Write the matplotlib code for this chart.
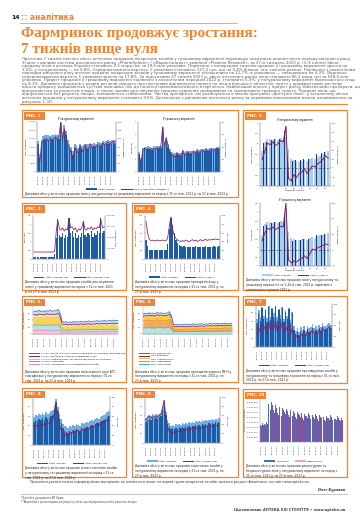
import textwrap
import numpy as np
import matplotlib
matplotlib.use('Agg')
import matplotlib.pyplot as plt
from matplotlib.patches import Rectangle
from matplotlib.lines import Line2D

# ---- data (approximate) ----
week_labels = ["02.08.21", "20.09.21", "08.11.21", "27.12.21", "14.02.22", "04.04.22", "23.05.22",
               "11.07.22", "29.08.22", "17.10.22", "05.12.22", "23.01.23", "13.03.23", "01.05.23", "19.06.23"]
weeks_2023 = list(range(1, 27))

p1_pack_prev = [1850, 1100, 1950, 2150, 2200, 2250, 2200, 2150, 2250, 2200, 2300, 2200, 2250, 3000, 2400,
                2800, 2450, 1900, 1650, 1500, 1250, 1650, 1600, 1450, 1650, 1550, 1600, 1700, 1650, 1700,
                1700, 1650, 1750, 1700, 1800, 1800, 1750, 1850, 1800, 1850, 1900, 1850, 1900, 1950, 1950]
p1_pack = [1650, 800, 1750, 1900, 1950, 2000, 1950, 1900, 2000, 1950, 2050, 1950, 2000, 2950, 2150,
           2600, 2200, 1700, 1450, 1300, 1000, 1450, 1350, 1250, 1450, 1350, 1400, 1500, 1400, 1450,
           1500, 1450, 1550, 1500, 1550, 1600, 1550, 1650, 1600, 1650, 1700, 1650, 1700, 1750, 1700]
p1_pack_line = [60, 30, 85, 95, 100, 98, 92, 102, 95, 100, 105, 96, 110, 148, 95, 130, 112, 80, 70, 55,
                35, 75, 62, 58, 80, 60, 68, 82, 66, 72, 85, 70, 78, 74, 82, 80, 76, 88, 80, 84, 90, 82,
                88, 92, 86]

p1_uah_prev = [1.6, 1.1, 1.9, 2.0, 2.0, 2.05, 2.0, 1.95, 2.05, 2.0, 2.1, 2.05, 2.1, 3.6, 2.4, 2.7, 2.2,
               1.8, 1.6, 1.55, 1.5, 1.6, 1.55, 1.5, 1.75, 1.6, 1.65, 1.7, 1.65, 1.7, 1.75, 1.7, 1.8, 1.75,
               1.8, 1.85, 1.8, 1.9, 1.85, 1.9, 1.95, 1.9, 1.95, 2.0, 2.0]
p1_uah = [1.4, 0.9, 1.7, 1.8, 1.8, 1.85, 1.8, 1.75, 1.85, 1.8, 1.9, 1.85, 1.9, 3.5, 2.2, 2.5, 2.0, 1.6,
          1.4, 1.35, 1.3, 1.4, 1.35, 1.3, 1.55, 1.4, 1.45, 1.5, 1.45, 1.5, 1.55, 1.5, 1.6, 1.55, 1.6,
          1.65, 1.6, 1.7, 1.65, 1.7, 1.75, 1.7, 1.75, 1.8, 1.8]
p1_uah_line = [25, 15, 34, 38, 36, 37, 35, 38, 36, 37, 39, 36, 42, 72, 40, 55, 42, 30, 27, 26, 24, 30,
               26, 25, 34, 27, 29, 32, 28, 30, 33, 30, 34, 31, 33, 35, 32, 36, 33, 35, 37, 34, 36, 38, 37]

p2a_prev = [2.0, 2.05, 2.1, 2.15, 2.2, 2.25, 2.2, 2.25, 2.3, 2.6, 1.3, 1.25, 1.2, 1.25, 1.3, 1.25, 1.3,
            1.35, 1.3, 1.4, 1.45, 1.5, 1.5, 1.55, 1.6, 1.65]
p2a_cur = [1.65, 2.1, 2.25, 2.25, 2.2, 2.25, 2.2, 2.3, 2.2, 2.8, 1.75, 1.3, 1.25, 1.2, 1.15, 1.2, 1.25,
           1.2, 1.3, 1.35, 1.3, 1.4, 1.45, 1.5, 1.6, 1.65]
p2a_line = [19, 37, 55, 52, 58, 50, 54, 61, 58, 93, -23, -29, -15, -22, -12, -9, -1, -12, -5, 5, 2, 9,
            13, 19, 27, 22]

p2b_prev = [2.1, 2.2, 2.3, 2.35, 2.4, 2.45, 2.4, 2.45, 2.5, 2.9, 1.5, 1.45, 1.4, 1.45, 1.5, 1.45, 1.5,
            1.55, 1.5, 1.6, 1.65, 1.7, 1.7, 1.75, 1.8, 1.85]
p2b_cur = [1.7, 2.35, 2.45, 2.45, 2.4, 2.45, 2.4, 2.5, 2.45, 3.2, 1.9, 1.55, 1.5, 1.45, 1.45, 1.5, 1.5,
           1.45, 1.55, 1.6, 1.55, 1.65, 1.7, 1.75, 1.8, 1.85]
p2b_line = [24, 43, 56, 53, 59, 53, 56, 61, 59, 120, -24, -32, -27, -30, -24, -21, -14, -21, -10, 3, 1,
            6, 9, 12, 16, 14]

p3_bars = [0.10, 0.12, 0.11, 0.13, 0.12, 0.14, 0.12, 0.13, 0.11, 0.12, 0.13, 0.12, 0.14, 0.30,
           1.2, 2.3, 1.4, 1.3, 1.5, 1.2, 1.4, 1.3, 2.4, 1.5, 1.6, 1.3, 1.5, 1.2, 1.4, 1.3, 1.5, 2.2,
           1.4, 1.3, 1.5, 1.4, 1.6, 1.3, 1.5, 1.4, 1.6, 1.5, 2.4, 1.5, 1.6]
p3_line = [6500, 6500, 6500, 6500, 6500, 6500, 6500, 6500, 6500, 6500, 6500, 6500, 6500, 7000,
           26000, 36000, 28000, 27000, 29000, 26000, 28000, 27000, 38000, 29000, 30000, 27000, 29000,
           25000, 28000, 27000, 29000, 35000, 28000, 27000, 29000, 28000, 30000, 27000, 29000, 28000,
           30000, 29000, 37000, 29000, 30000]

p4_bars = [45, 30, 22, 20, 21, 20, 22, 21, 20, 22, 21, 20, 22, 35, 70, 95, 80, 60, 45, 38, 33, 30, 28,
           30, 27, 29, 28, 27, 29, 28, 30, 27, 28, 29, 27, 28, 30, 28, 27, 29, 28, 30, 29, 28, 30]
p4_line = [88, 60, 45, 43, 44, 42, 43, 44, 42, 43, 44, 43, 42, 48, 75, 98, 70, 55, 48, 44, 42, 40, 43,
           41, 44, 42, 40, 43, 45, 42, 44, 41, 43, 45, 42, 44, 46, 43, 45, 44, 46, 45, 47, 45, 46]

p5_blue = [78, 82, 80, 85, 80, 83, 79, 84, 81, 86, 80, 84, 82, 88, 75, 45, 42, 44, 40, 43, 41, 45, 42,
           44, 43, 46, 42, 45, 44, 47, 43, 46, 45, 48, 44, 47, 46, 49, 45, 48, 47, 50, 46, 49, 48]
p5_purple = [68, 70, 66, 72, 69, 71, 67, 73, 70, 72, 68, 71, 70, 75, 62, 36, 34, 35, 32, 34, 33, 36, 34,
             35, 34, 37, 33, 36, 35, 37, 34, 36, 35, 38, 35, 37, 36, 38, 35, 38, 37, 39, 36, 38, 38]
p5_yellow = [55, 58, 56, 60, 57, 59, 55, 61, 58, 60, 56, 59, 58, 62, 50, 26, 24, 25, 23, 25, 24, 26, 25,
             26, 25, 27, 24, 26, 26, 27, 25, 27, 26, 28, 26, 28, 27, 29, 27, 29, 28, 30, 28, 29, 29]
p5_teal = [30, 32, 31, 33, 31, 32, 30, 33, 32, 33, 31, 32, 32, 34, 28, 15, 14, 15, 13, 14, 14, 15, 14, 15,
           15, 16, 14, 15, 15, 16, 15, 16, 15, 16, 15, 16, 16, 17, 16, 17, 16, 17, 16, 17, 17]
p5_pink = [12, 13, 12, 14, 13, 13, 12, 14, 13, 14, 12, 13, 13, 14, 11, 7, 6, 7, 6, 7, 7, 7, 6, 7, 7, 8,
           7, 7, 7, 8, 7, 8, 7, 8, 7, 8, 8, 8, 7, 8, 8, 8, 8, 8, 8]

p6_blue = [70, 74, 72, 76, 73, 75, 71, 77, 74, 76, 72, 75, 74, 80, 65, 36, 33, 35, 32, 34, 33, 36, 34,
           35, 34, 37, 33, 36, 35, 37, 34, 36, 35, 38, 35, 37, 36, 38, 35, 38, 37, 39, 36, 38, 38]
p6_purple = [62, 66, 64, 68, 65, 67, 63, 69, 66, 68, 64, 67, 66, 70, 58, 28, 26, 27, 25, 27, 26, 28, 27,
             28, 27, 29, 26, 28, 28, 29, 27, 29, 28, 30, 28, 30, 29, 31, 29, 31, 30, 32, 30, 31, 31]
p6_yellow = [58, 62, 60, 64, 61, 63, 59, 65, 62, 64, 60, 63, 62, 66, 54, 24, 22, 23, 21, 23, 22, 24, 23,
             24, 23, 25, 22, 24, 24, 25, 23, 25, 24, 26, 24, 26, 25, 27, 25, 27, 26, 28, 26, 27, 27]
p6_orange = [45, 48, 46, 50, 47, 49, 45, 51, 48, 50, 46, 49, 48, 52, 40, 18, 16, 17, 15, 17, 16, 18, 17,
             18, 17, 19, 16, 18, 18, 19, 17, 19, 18, 20, 18, 20, 19, 21, 19, 21, 20, 22, 20, 21, 21]
p6_teal = [20, 22, 21, 23, 21, 22, 20, 23, 22, 23, 21, 22, 22, 24, 18, 9, 8, 9, 8, 9, 9, 9, 8, 9, 9, 10,
           9, 9, 9, 10, 9, 10, 9, 10, 9, 10, 10, 10, 9, 10, 10, 10, 10, 10, 10]

p7_prev = [65, 85, 70, 92, 72, 88, 68, 95, 70, 90, 78, 96, 70, 88, 75, 92, 66, 86, 72, 90, 62, 82, 50,
           38, 44, 36, 46, 40, 48, 38, 50, 44, 46, 54, 44, 48, 42, 52, 46, 55, 48, 50, 54, 56, 52]
p7_bars = [55, 80, 60, 90, 65, 85, 58, 92, 62, 88, 70, 95, 60, 85, 66, 90, 58, 82, 64, 88, 55, 78, 40,
           30, 35, 28, 38, 32, 40, 30, 42, 35, 38, 45, 36, 40, 34, 44, 38, 46, 40, 42, 45, 48, 44]
p7_line = [30, 45, 35, 55, 40, 50, 32, 60, 38, 52, 42, 65, 35, 50, 40, 58, 34, 48, 38, 55, 30, 45, 25,
           22, 28, 20, 30, 26, 34, 25, 36, 30, 33, 40, 32, 36, 30, 40, 35, 44, 38, 40, 43, 46, 42]

p8_prev = [58, 62, 60, 64, 63, 66, 62, 68, 64, 67, 70, 72, 84, 96, 80, 64, 54, 44, 40, 37, 35, 40, 38,
           42, 40, 44, 42, 40, 45, 43, 46, 48, 46, 50, 52, 50, 54, 56, 55, 58, 60, 62, 65, 68, 70]
p8_bars = [48, 52, 50, 55, 53, 56, 52, 58, 54, 57, 60, 62, 75, 90, 70, 55, 45, 35, 30, 28, 26, 30, 28,
           32, 30, 34, 32, 30, 35, 33, 36, 38, 36, 40, 42, 40, 44, 46, 45, 48, 50, 52, 55, 58, 60]
p8_line = [35, 40, 42, 38, 44, 40, 45, 42, 46, 44, 48, 50, 70, 85, 60, 40, 30, 22, 18, 25, 20, 28, 22,
           30, 25, 32, 28, 24, 34, 30, 33, 36, 32, 38, 40, 36, 42, 44, 40, 46, 48, 45, 50, 52, 50]

p9_prev = [55, 58, 60, 58, 62, 60, 63, 61, 64, 66, 80, 94, 68, 50, 43, 38, 40, 38, 41, 39, 42, 40, 43,
           41, 44, 42, 45, 43, 46, 44, 47, 45, 48, 46, 49, 47, 50, 48, 51, 49, 52, 50, 53, 51, 54]
p9_bars = [45, 50, 52, 50, 54, 52, 55, 53, 56, 58, 72, 88, 60, 42, 35, 30, 32, 30, 33, 31, 34, 32, 35,
           33, 36, 34, 37, 35, 38, 36, 39, 37, 40, 38, 41, 39, 42, 40, 43, 41, 44, 42, 45, 43, 46]
p9_line = [50, 55, 58, 54, 57, 55, 58, 56, 60, 62, 78, 92, 58, 35, 25, 20, 24, 22, 26, 23, 27, 25, 28,
           26, 30, 27, 31, 29, 32, 30, 33, 31, 34, 32, 35, 33, 36, 34, 37, 35, 38, 36, 39, 37, 40]

p10_rx = [35, 38, 36, 40, 78, 70, 82, 65, 75, 60, 72, 58, 70, 62, 68, 55, 66, 58, 64, 52, 62, 55, 60,
          50, 58, 54, 60, 48, 56, 52, 58, 47, 55, 50, 56, 46, 54, 49, 55, 45, 52, 48, 53, 46, 50]
p10_otc = [32, 35, 34, 37, 72, 66, 76, 60, 70, 56, 68, 54, 66, 58, 63, 51, 62, 54, 60, 48, 58, 51, 56,
           46, 54, 50, 56, 44, 52, 48, 54, 43, 51, 46, 52, 42, 50, 45, 51, 41, 48, 44, 49, 42, 46]

body = ("Протягом 7 тижнів поспіль обсяг аптечних продажів лікарських засобів у грошовому вираженні "
        "перевищує показники аналогічного періоду минулого року. Згідно з даними системи дослідження "
        "ринку «PharmXplorer» / «Фармстандарт» компанії «Proxima Research», за 27-й тиждень 2023 р. "
        "(3–9 липня) обсяг продажу ліків в аптеках України становить 2,5 млрд грн за 19,5 млн упаковок. "
        "Порівняно з попереднім тижнем продажі у грошовому вираженні зросли на 1,2%, у натуральному — "
        "на 0,8%. Середньозважена вартість 1 упаковки становить 127,3 грн, що на 0,4% більше, ніж тижнем "
        "раніше. Порівняно з аналогічним періодом минулого року аптечні продажі лікарських засобів у "
        "грошовому вираженні збільшилися на 12,7%, в упаковках — зменшилися на 4,3%. Водночас "
        "середньозважена вартість 1 упаковки зросла на 17,8%. За підсумками 27 тижнів 2023 р. обсяг "
        "аптечного ринку ліків становить 66,2 млрд грн за 528,4 млн упаковок. Приріст продажів у "
        "грошовому вираженні порівняно з аналогічним періодом 2022 р. становить 5,3%, у натуральному "
        "вираженні відзначається спад на 8,1%. Динаміка продажів у розрізі регіонів свідчить про "
        "поступове відновлення попиту на ліки в більшості областей, проте у прифронтових регіонах обсяги "
        "продажу залишаються суттєво нижчими, ніж до початку повномасштабного вторгнення. Найбільший "
        "внесок у приріст ринку забезпечили препарати, що відпускаються за рецептом лікаря, а також засоби "
        "для лікування серцево-судинних захворювань та захворювань травного тракту. Продажі ліків, що "
        "відпускаються без рецепта лікаря, залишаються стабільними. Частка препаратів, які реалізуються "
        "в межах програми «Доступні ліки», у загальному обсязі аптечних продажів у натуральному вираженні "
        "становить 9,6%. Детальніше з динамікою аптечного ринку за окремими показниками можна "
        "ознайомитися на рисунках 1–10.")

# ---- layout helpers (pixel coordinates, origin top-left) ----
W, H = 360, 530
ORANGE = '#ef8534'
DARK = '#1d5ba6'
LIGHT = '#6eaee2'
PALE = '#a8cdef'
NAVY = '#1b3873'
PURPLE = '#8e1a5b'

plt.rcParams['font.family'] = ['DejaVu Sans']
fig = plt.figure(figsize=(3.6, 5.3), dpi=100)


def ax_px(x0, y0, x1, y1):
    return fig.add_axes([x0 / W, 1 - y1 / H, (x1 - x0) / W, (y1 - y0) / H])


def txt(x, y, s, **kw):
    return fig.text(x / W, 1 - y / H, s, **kw)


def hline(x0, x1, y, color, lw):
    fig.add_artist(Line2D([x0 / W, x1 / W], [1 - y / H, 1 - y / H], color=color, lw=lw))


def fmt(v):
    if float(v).is_integer():
        return '{:,}'.format(int(v)).replace(',', ' ')
    return ('%.1f' % v).replace('.', ',')


def style(ax):
    ax.tick_params(labelsize=1.5, length=1, width=0.3, pad=0.5, color='#888', labelcolor='#333')
    for s in ax.spines.values():
        s.set_linewidth(0.3)
        s.set_color('#999')
    ax.spines['top'].set_visible(False)


def box(x0, y0, x1, y1, label):
    fig.add_artist(Rectangle((x0 / W, 1 - y1 / H), (x1 - x0) / W, (y1 - y0) / H,
                             transform=fig.transFigure, fill=False, ec=ORANGE, lw=0.9))
    fig.add_artist(Rectangle(((x0 + 2) / W, 1 - (y0 + 10) / H), 21 / W, 7.5 / H,
                             transform=fig.transFigure, fc=ORANGE, ec='none'))
    txt(x0 + 4, y0 + 6.3, label, color='white', fontsize=2.8, weight='bold', va='center')


def caption(x, y, s, width):
    txt(x, y, textwrap.fill(s, width), fontsize=2.1, va='top', color='#222', linespacing=1.25)


def legend(x, y, items, ncol=2):
    handles = []
    for kind, c in items:
        if kind == 'bar':
            handles.append(Rectangle((0, 0), 1, 1, fc=c, ec='none'))
        else:
            handles.append(Line2D([], [], color=c, lw=0.7))
    labels = [lab for lab in items.values()] if isinstance(items, dict) else None
    return handles


def add_legend(x, y, kinds, colors, labels, ncol=2, loc='center'):
    handles = []
    for kind, c in zip(kinds, colors):
        if kind == 'bar':
            handles.append(Rectangle((0, 0), 1, 1, fc=c, ec='none'))
        else:
            handles.append(Line2D([], [], color=c, lw=0.7))
    fig.legend(handles, labels, loc=loc, bbox_to_anchor=(x / W, 1 - y / H), ncol=ncol, fontsize=1.5,
               frameon=False, handlelength=5, handleheight=0.9, columnspacing=3, labelspacing=0.5,
               borderpad=0, handletextpad=0.8)


def bar_line(rect, prev, cur, line, ylim, yticks, rlim, rticks, xlabels, ylab, rlab,
             step=3, title=None, zero=False):
    ax = ax_px(*rect)
    x = np.arange(len(cur))
    if prev is not None:
        ax.bar(x, prev, width=1.0, color=LIGHT, lw=0)
    ax.bar(x, cur, width=0.8, color=DARK, lw=0)
    ax.set_xlim(-0.6, len(cur) - 0.4)
    ax.set_ylim(*ylim)
    ax.set_yticks(yticks, [fmt(v) for v in yticks])
    ax.set_xticks(x[::step], xlabels, rotation=90)
    ax.set_ylabel(ylab, fontsize=1.6, labelpad=1)
    style(ax)
    ax2 = ax.twinx()
    ax2.plot(x, line, color=PURPLE, lw=0.55)
    ax2.set_ylim(*rlim)
    ax2.set_yticks(rticks, [fmt(v) for v in rticks])
    ax2.set_ylabel(rlab, fontsize=1.6, labelpad=1)
    style(ax2)
    if title:
        ax.set_title(title, fontsize=1.8, pad=1.5)
    return ax, ax2


def weekly_2023(rect, prev, cur, line, ylim, yticks, rlim, rticks, ylab, title):
    ax = ax_px(*rect)
    x = np.array(weeks_2023)
    ax.bar(x, cur, width=0.72, color=PALE, lw=0)
    ax.bar(x - 0.42, prev, width=0.22, color=NAVY, lw=0)
    ax.set_xlim(0.2, 26.7)
    ax.set_ylim(*ylim)
    ax.set_yticks(yticks, [fmt(v) for v in yticks])
    ax.set_xticks(x[::3], [str(v) for v in x[::3]])
    ax.set_xlabel('Тиждень 2023 р.', fontsize=1.6, labelpad=0.8)
    ax.set_ylabel(ylab, fontsize=1.6, labelpad=1)
    ax.set_title(title, fontsize=1.8, pad=1.5)
    style(ax)
    ax2 = ax.twinx()
    ax2.axhline(0, color='#333', lw=0.4, ls=(0, (4, 3)))
    ax2.plot(x, line, color=PURPLE, lw=0.7)
    ax2.set_ylim(*rlim)
    ax2.set_yticks(rticks, [fmt(v) for v in rticks])
    ax2.set_ylabel('Приріст/спад, %', fontsize=1.6, labelpad=1)
    style(ax2)


# ---- header ----
txt(11, 17.5, '14', fontsize=4.3, weight='bold', va='center', color='#111')
txt(21, 17.5, ':: аналітика', fontsize=5.5, weight='bold', va='center', color=ORANGE)
hline(20, 237, 22.5, '#9a9a9a', 0.5)
txt(21, 36.5, 'Фармринок продовжує зростання:', fontsize=11, weight='bold', color=ORANGE,
    family='Liberation Serif', va='baseline')
txt(21, 52.5, '7 тижнів вище нуля', fontsize=11, weight='bold', color=ORANGE,
    family='Liberation Serif', va='baseline')

# body text, 12 lines, font size fitted to the column width
lines = textwrap.wrap(body, int(np.ceil(len(body) / 12)) + 2)
body_texts = [txt(22, 59 + i * 3.55, ln, fontsize=2.1, color='#555', va='center') for i, ln in enumerate(lines)]
fig.canvas.draw()
rend = fig.canvas.get_renderer()
widest = max(t.get_window_extent(rend).width for t in body_texts)
for t in body_texts:
    t.set_fontsize(2.1 * 322 / widest)
hline(20, 347, 103.5, ORANGE, 0.8)

# ---- Рис. 1 ----
box(22, 110, 238, 197, 'РИС. 1')
ticks_pack = [0, 500, 1000, 1500, 2000, 2500, 3000]
bar_line((37, 122, 116, 172), p1_pack_prev, p1_pack, p1_pack_line, (0, 3000), ticks_pack,
         (0, 150), [0, 25, 50, 75, 100, 125, 150], week_labels, 'Тис. упаковок',
         'Приріст/спад, %', title='У натуральному вираженні')
bar_line((138, 122, 220, 172), p1_uah_prev, p1_uah, p1_uah_line, (0, 4), [0, 1, 2, 3, 4],
         (0, 80), [0, 20, 40, 60, 80], week_labels, 'Млрд грн', 'Приріст/спад, %',
         title='У грошовому вираженні')
add_legend(128, 189.5, ['bar', 'line'], [DARK, PURPLE],
           ['Обсяг продажу', 'Приріст/спад обсягу продажу, %'])
caption(25, 192, 'Динаміка обсягу аптечних продажів ліків у натуральному та грошовому вираженні '
        'за період з 31-го тиж. 2021 р. по 27-й тиж. 2023 р.', 135)

# ---- Рис. 2 ----
box(243, 110, 347, 290, 'РИС. 2')
weekly_2023((260, 123, 330, 186), p2a_prev, p2a_cur, p2a_line, (0, 3.0),
            [0, 0.5, 1.0, 1.5, 2.0, 2.5, 3.0], (-40, 100), [-40, -20, 0, 20, 40, 60, 80, 100],
            'Млн упаковок', 'У натуральному вираженні')
weekly_2023((260, 203, 330, 266), p2b_prev, p2b_cur, p2b_line, (0, 3.5),
            [0, 0.5, 1.0, 1.5, 2.0, 2.5, 3.0, 3.5], (-40, 120), [-40, 0, 40, 80, 120],
            'Млрд грн', 'У грошовому вираженні')
add_legend(295, 275.5, ['bar', 'line'], [PALE, PURPLE], ['Обсяг продажу', 'Приріст/спад, %'])
caption(246, 278.5, 'Динаміка обсягу аптечних продажів ліків у натуральному та грошовому '
        'вираженні за 1–26-й тиж. 2023 р. порівняно з аналогічним періодом 2022 р.', 60)

# ---- Рис. 3 ----
box(22, 203, 126, 290, 'РИС. 3')
bar_line((33, 216, 105, 259), None, p3_bars, p3_line, (0, 2.5), [0, 0.5, 1.0, 1.5, 2.0, 2.5],
         (0, 40000), [0, 10000, 20000, 30000, 40000], week_labels, 'Млн грн', 'Тис. упаковок')
add_legend(72, 277.5, ['bar', 'line'], [DARK, PURPLE], ['Обсяг продажу, грн', 'Обсяг продажу, упак.'])
caption(25, 280, 'Динаміка обсягу аптечних продажів засобів для лікування анемії '
        'у грошовому вираженні за період з 31-го тиж. 2021 р. по 27-й тиж. 2023 р.', 58)

# ---- Рис. 4 ----
box(132, 203, 238, 290, 'РИС. 4')
bar_line((145, 216, 220, 259), None, p4_bars, p4_line, (0, 100), [0, 20, 40, 60, 80, 100],
         (0, 100), [0, 20, 40, 60, 80, 100], week_labels, 'Тис. упаковок', 'Млн грн')
add_legend(182, 277.5, ['bar', 'line'], [DARK, PURPLE], ['Обсяг продажу', 'Приріст/спад, %'])
caption(135, 280, 'Динаміка обсягу аптечних продажів препаратів йоду у натуральному '
        'вираженні за період з 31-го тиж. 2021 р. по 27-й тиж. 2023 р.', 60)


# ---- Рис. 5 / Рис. 6: several series ----
def multi(rect, series, colors, fills):
    ax = ax_px(*rect)
    x = np.arange(len(series[0]))
    for i, (lo, c) in enumerate(fills):
        base = series[i + 1] if i + 1 < len(series) else np.zeros(len(x))
        ax.fill_between(x, base, series[i], color=c, lw=0)
    ax.fill_between(x, 0, series[-1], color=fills[-1][1], lw=0)
    for s, c in zip(series, colors):
        ax.plot(x, s, color=c, lw=0.55)
    ax.set_xlim(0, len(x) - 1)
    ax.set_ylim(0, 100)
    ax.set_yticks([0, 25, 50, 75, 100], ['0', '25', '50', '75', '100'])
    ax.set_xticks(x[::3], week_labels, rotation=90)
    ax.set_ylabel('Тис. упаковок', fontsize=1.6, labelpad=1)
    style(ax)
    ax.spines['right'].set_visible(False)


box(22, 296, 126, 382, 'РИС. 5')
multi((33, 306, 118, 334), [p5_blue, p5_purple, p5_yellow, p5_teal, p5_pink],
      ['#2f6fc0', '#8e1a5b', '#f2c230', '#4bb3b3', '#e08bb8'],
      [(0, '#cfe0f3'), (0, '#f7e7a0'), (0, '#fbd35a'), (0, '#b7e2df'), (0, '#f4c6dc')])
add_legend(28, 351, ['line'] * 5, ['#2f6fc0', '#8e1a5b', '#f2c230', '#4bb3b3', '#e08bb8'],
           ['ATC R05 Засоби, що застосовуються при кашлі та застудних захворюваннях',
            'ATC R02 Засоби для лікування захворювань горла',
            'ATC J01 Антибактеріальні засоби для системного застосування',
            'ATC N02 Аналгетики',
            'ATC M01 Протизапальні та протиревматичні засоби'], ncol=1, loc='upper left')
caption(25, 369.5, 'Динаміка обсягу аптечних продажів ліків окремих груп АТС-класифікації '
        'у натуральному вираженні за період з 31-го тиж. 2021 р. по 27-й тиж. 2023 р.', 58)

box(132, 296, 238, 382, 'РИС. 6')
multi((143, 306, 232, 334), [p6_blue, p6_purple, p6_yellow, p6_orange, p6_teal],
      ['#2f6fc0', '#8e1a5b', '#f2c230', '#ef8a2c', '#4bb3b3'],
      [(0, '#d3e3f4'), (0, '#f6e39a'), (0, '#f9c94a'), (0, '#f4a85a'), (0, '#b7e2df')])
add_legend(138, 351, ['line'] * 5, ['#2f6fc0', '#8e1a5b', '#f2c230', '#ef8a2c', '#4bb3b3'],
           ['МНН Парацетамол', 'МНН Ібупрофен', 'МНН Ацетилцистеїн', 'МНН Амоксицилін',
            'МНН Азитроміцин'], ncol=1, loc='upper left')
caption(135, 369.5, 'Динаміка обсягу аптечних продажів препаратів окремих МНН у натуральному '
        'вираженні за період з 31-го тиж. 2021 р. по 27-й тиж. 2023 р.', 60)

# ---- Рис. 7 ----
box(243, 296, 347, 383, 'РИС. 7')
bar_line((256, 304, 332, 347), p7_prev, p7_bars, p7_line, (0, 100), [0, 20, 40, 60, 80, 100],
         (0, 100), [0, 25, 50, 75, 100], week_labels, 'Тис. упаковок', 'Млн грн')
add_legend(294, 365.5, ['bar', 'line'], [DARK, PURPLE], ['Обсяг продажу', 'Обсяг продажу, грн'])
caption(246, 369, 'Динаміка обсягу аптечних продажів противірусних засобів у натуральному '
        'та грошовому вираженні за період з 31-го тиж. 2021 р. по 27-й тиж. 2023 р.', 60)

# ---- Рис. 8 ----
box(22, 388, 126, 477, 'РИС. 8')
bar_line((33, 397, 110, 445), p8_prev, p8_bars, p8_line, (0, 100), [0, 20, 40, 60, 80, 100],
         (0, 100), [0, 20, 40, 60, 80, 100], week_labels, 'Тис. упаковок', 'Млн грн')
add_legend(72, 463.5, ['bar', 'line'], [DARK, PURPLE], ['Обсяг продажу', 'Обсяг продажу, грн'])
caption(25, 466.5, 'Динаміка обсягу аптечних продажів антигістамінних засобів у натуральному '
        'та грошовому вираженні за період з 31-го тиж. 2021 р. по 27-й тиж. 2023 р.', 58)

# ---- Рис. 9 ----
box(132, 388, 238, 477, 'РИС. 9')
bar_line((145, 397, 220, 443), p9_prev, p9_bars, p9_line, (0, 100), [0, 20, 40, 60, 80, 100],
         (0, 100), [0, 20, 40, 60, 80, 100], week_labels, 'Тис. упаковок', 'Млн грн')
add_legend(182, 461, ['bar', 'line'], [LIGHT, PURPLE], ['Обсяг продажу', 'Обсяг продажу, грн'])
caption(135, 464.5, 'Динаміка обсягу аптечних продажів седативних засобів у натуральному '
        'вираженні за період з 31-го тиж. 2021 р. по 27-й тиж. 2023 р.', 60)

# ---- Рис. 10 ----
box(243, 389, 347, 477, 'РИС. 10')
ax = ax_px(260, 398, 343, 442)
x = np.arange(len(p10_rx))
ax.bar(x - 0.22, p10_rx, width=0.48, color='#3b76c4', lw=0)
ax.bar(x + 0.22, p10_otc, width=0.48, color='#a0448c', lw=0)
ax.set_xlim(-0.7, len(x) - 0.3)
ax.set_ylim(0, 90)
ax.set_yticks([0, 10, 20, 30, 40, 50, 60, 70, 80, 90],
              ['0', '1 000 000', '2 000 000', '3 000 000', '4 000 000', '5 000 000', '6 000 000',
               '7 000 000', '8 000 000', '9 000 000'])
ax.set_xticks(x[::3], week_labels, rotation=90)
ax.set_ylabel('Кількість упаковок', fontsize=1.6, labelpad=1)
style(ax)
ax.spines['right'].set_visible(False)
add_legend(294, 461, ['bar', 'bar'], ['#3b76c4', '#e2a6cf'], ['Рецептурні', 'Безрецептурні'])
caption(246, 464, 'Динаміка обсягу аптечних продажів рецептурних та безрецептурних '
        'ліків у натуральному вираженні за період з 31-го тиж. 2021 р. по 27-й тиж. 2023 р.', 60)

# ---- footer ----
txt(30, 482, 'Прокоментувати в межах інформаційних матеріалів, як змінюється попит на окремі групи '
    'лікарських засобів, можна в розділі «Аналітика» на сайті www.apteka.ua.', fontsize=2.3,
    color='#333', va='center')
txt(345, 490.5, 'Олег Бурлака', fontsize=2.4, style='italic', weight='bold', ha='right', va='center',
    color='#333')
hline(20, 347, 493.5, '#9a9a9a', 0.4)
txt(21, 497.5, '*Дані без урахування АР Крим.', fontsize=1.9, color='#444', va='center')
txt(21, 502, '**Відповідно до методики розрахунку ліків, що відпускаються без рецепта лікаря.',
    fontsize=1.9, color='#444', va='center')
txt(345, 510.5, 'Щотижневик АПТЕКА ХХІ СТОЛІТТЯ • www.apteka.ua', fontsize=2.6, weight='bold',
    ha='right', va='center', color='#444')

fig.savefig('out.png', dpi=100)
